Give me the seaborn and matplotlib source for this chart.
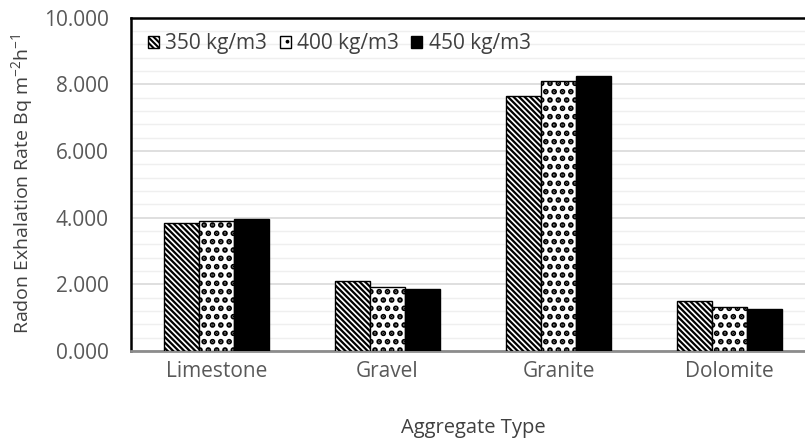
import matplotlib
matplotlib.use("Agg")
import matplotlib.pyplot as plt
import seaborn as sns
import pandas as pd
from matplotlib.ticker import MultipleLocator

categories = ["Limestone", "Gravel", "Granite", "Dolomite"]
series_names = ["350 kg/m3", "400 kg/m3", "450 kg/m3"]
vals_350 = [3.84, 2.10, 7.66, 1.51]
vals_400 = [3.91, 1.92, 8.09, 1.33]
vals_450 = [3.95, 1.86, 8.26, 1.26]
yticks = [0, 2, 4, 6, 8, 10]

rows = []
for name, vals in zip(series_names, [vals_350, vals_400, vals_450]):
    for c, v in zip(categories, vals):
        rows.append({"Aggregate": c, "Density": name, "Value": v})
df = pd.DataFrame(rows)

sns.set_theme(style="white")
plt.rcParams['font.family'] = ['Open Sans', 'DejaVu Sans']
plt.rcParams['mathtext.fontset'] = 'custom'
plt.rcParams['mathtext.rm'] = 'Open Sans'
plt.rcParams['hatch.linewidth'] = 1.5
plt.rcParams['hatch.color'] = 'black'

fig = plt.figure(figsize=(8.05, 4.43), dpi=100)
ax = fig.add_axes([131/805, 1-351/443, 684/805, 333.5/443])

sns.barplot(data=df, x="Aggregate", y="Value", hue="Density",
            order=categories, hue_order=series_names,
            palette=["white", "white", "black"], width=0.61, gap=0,
            edgecolor="black", linewidth=1.0, legend=False, ax=ax, zorder=3)

hatches = ["\\" * 6, "..", None]
hatch_lw = [1.6, 2.8, 1.5]
for cont, h, hl in zip(ax.containers, hatches, hatch_lw):
    for p in cont:
        if h:
            p.set_hatch(h)
            if hasattr(p, "set_hatch_linewidth"):
                p.set_hatch_linewidth(hl)
        p.set_edgecolor("black")

ax.set_ylim(0, 10)
ax.set_yticks(yticks)
ax.set_yticklabels([f"{t:.3f}" for t in yticks])
ax.yaxis.set_minor_locator(MultipleLocator(0.4))
ax.grid(axis='y', which='minor', color='#efefef', linewidth=1.0, zorder=0)
ax.grid(axis='y', which='major', color='#d9d9d9', linewidth=1.2, zorder=0)
ax.set_axisbelow(True)
ax.tick_params(axis='both', which='both', length=0, colors='#595959', labelsize=15)
ax.tick_params(axis='y', pad=16)
ax.tick_params(axis='x', pad=7)

for s in ['left', 'top', 'right']:
    ax.spines[s].set_color('black')
    ax.spines[s].set_linewidth(1.8)
ax.spines['bottom'].set_color('#8c8c8c')
ax.spines['bottom'].set_linewidth(2.0)

ax.set_xlabel("Aggregate Type", color='#404040', fontsize=14.5, labelpad=26)
ax.set_ylabel(r"Radon Exhalation Rate Bq m$^{\mathregular{-2}}$h$^{\mathregular{-1}}$",
              color='#404040', fontsize=14, labelpad=6)

leg = ax.legend(ax.containers, series_names, loc='center left',
                bbox_to_anchor=(148/805, 1-44/443), bbox_transform=fig.transFigure,
                ncol=3, frameon=False, fontsize=15, handlelength=0.53, handleheight=0.53,
                handletextpad=0.3, columnspacing=0.6, borderpad=0, borderaxespad=0)
for t in leg.get_texts():
    t.set_color('#404040')

fig.savefig("out.png", dpi=100)
